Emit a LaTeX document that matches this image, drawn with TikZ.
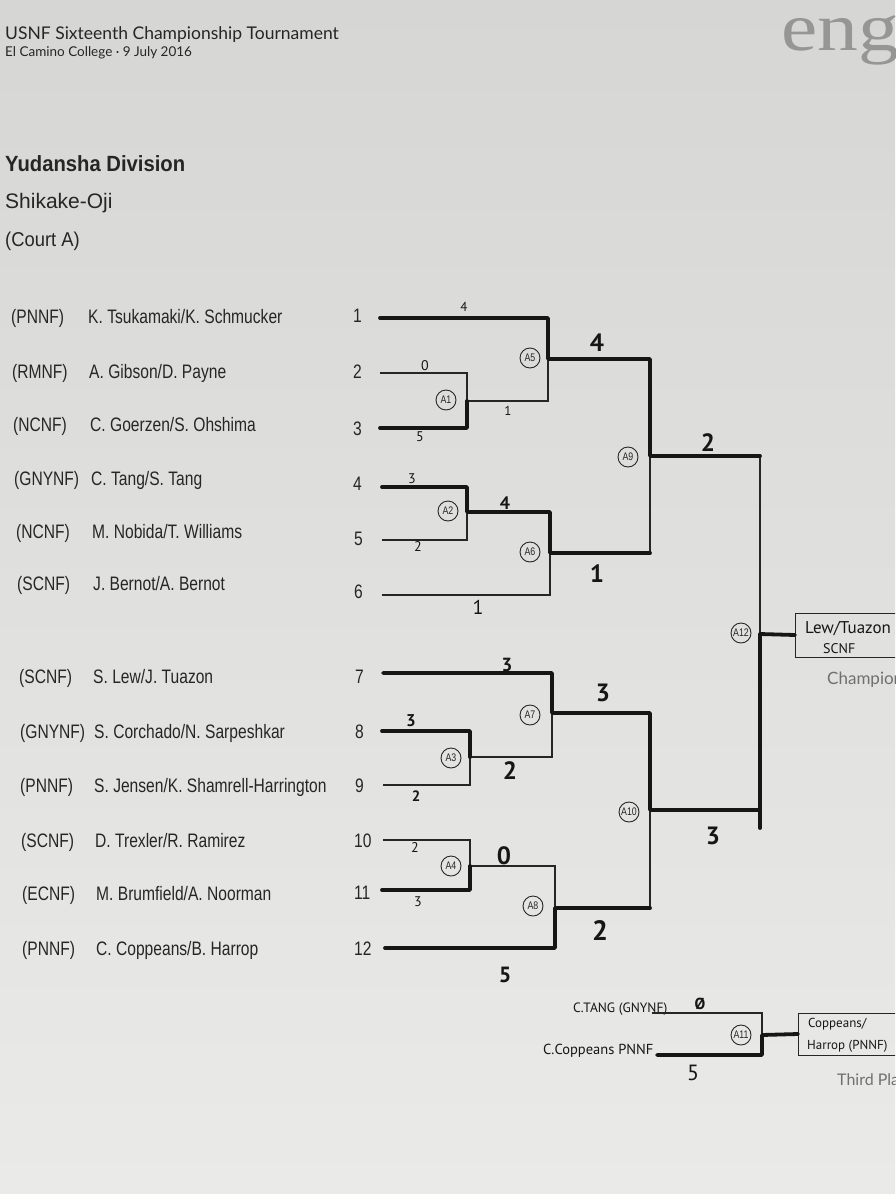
\documentclass[tikz,border=0pt]{standalone}
\usepackage{fontspec}
\setmainfont{Liberation Sans}
\newfontfamily\gillfont{Lato}
\newfontfamily\condfont[FakeStretch=0.8]{Liberation Sans}
\newfontfamily\headfont[FakeStretch=0.92]{Liberation Sans}
\newfontfamily\handfont{PT Sans}
\newfontfamily\markfont[FakeStretch=1.2]{Liberation Serif}
\usepackage{tikz}
\usetikzlibrary{positioning}
\definecolor{PaperTop}{RGB}{214,214,212}
\definecolor{PaperBot}{RGB}{234,234,232}
\definecolor{Ink}{RGB}{38,38,38}
\definecolor{Pen}{RGB}{22,22,22}
\definecolor{PrintGray}{RGB}{112,112,112}
\definecolor{Faint}{RGB}{150,150,150}

\begin{document}
\begin{tikzpicture}[
  x=1pt, y=-1pt,
  label text/.style={anchor=base west, inner sep=0pt, text=Ink},
  team/.style={label text, font=\condfont\fontsize{19.5}{20}\selectfont},
  bline/.style={draw=Ink, line width=1.1pt},
  winline/.style={draw=Pen, line width=3.8pt, line join=round, line cap=round},
  mcirc/.style={circle, draw=Ink, line width=0.9pt, minimum size=20pt,
                inner sep=0pt, text=Ink, font=\condfont\fontsize{11}{11}\selectfont},
  score/.style={inner sep=0pt, text=Pen, font=\handfont\fontsize{14}{14}\selectfont},
  bigscore/.style={inner sep=0pt, text=Pen, font=\handfont\bfseries\fontsize{25}{25}\selectfont},
  resbox/.style={rectangle, draw=Ink, line width=1pt, minimum width=112pt,
                 minimum height=44pt, anchor=west},
  hand/.style={anchor=base west, inner sep=0pt, text=Pen, font=\handfont\fontsize{14}{14}\selectfont},
]

\clip (0,0) rectangle (895,1194);
\shade[top color=PaperTop, bottom color=PaperBot] (0,0) rectangle (895,1194);

% header
\node[label text, font=\gillfont\fontsize{17.5}{18}\selectfont] (title) at (5,39) {USNF Sixteenth Championship Tournament};
\node[label text, font=\gillfont\fontsize{13.5}{14}\selectfont] (venue) at (5,56) {El Camino College · 9 July 2016};
\node[label text, text=Faint, font=\markfont\fontsize{68}{68}\selectfont] (mark) at (781,50) {eng};
\node[label text, font=\headfont\bfseries\fontsize{22}{22}\selectfont] (division) at (5,171) {Yudansha Division};
\node[label text, font=\fontsize{21}{21}\selectfont] (event) at (5,208) {Shikake-Oji};
\node[label text, font=\headfont\fontsize{20}{20}\selectfont] (court) at (5,246) {(Court A)};

% entries, top half
\node[team] (f1) at (11,323) {(PNNF)};
\node[team] (n1) at (88,323) {K. Tsukamaki/K. Schmucker};
\node[team] (d1) at (353,322) {1};
\node[team] (f2) at (12,378) {(RMNF)};
\node[team] (n2) at (89,378) {A. Gibson/D. Payne};
\node[team] (d2) at (353,378) {2};
\node[team] (f3) at (13,431) {(NCNF)};
\node[team] (n3) at (90,431) {C. Goerzen/S. Ohshima};
\node[team] (d3) at (353,435) {3};
\node[team] (f4) at (14,485) {(GNYNF)};
\node[team] (n4) at (91,485) {C. Tang/S. Tang};
\node[team] (d4) at (353,490) {4};
\node[team] (f5) at (16,538) {(NCNF)};
\node[team] (n5) at (92,538) {M. Nobida/T. Williams};
\node[team] (d5) at (354,545) {5};
\node[team] (f6) at (17,590) {(SCNF)};
\node[team] (n6) at (93,590) {J. Bernot/A. Bernot};
\node[team] (d6) at (354,598) {6};

% entries, bottom half
\node[team] (f7) at (19,683) {(SCNF)};
\node[team] (n7) at (93,683) {S. Lew/J. Tuazon};
\node[team] (d7) at (355,683) {7};
\node[team] (f8) at (20,738) {(GNYNF)};
\node[team] (n8) at (94,738) {S. Corchado/N. Sarpeshkar};
\node[team] (d8) at (355,738) {8};
\node[team] (f9) at (20,792) {(PNNF)};
\node[team] (n9) at (94,792) {S. Jensen/K. Shamrell-Harrington};
\node[team] (d9) at (355,792) {9};
\node[team] (f10) at (21,847) {(SCNF)};
\node[team] (n10) at (95,847) {D. Trexler/R. Ramirez};
\node[team] (d10) at (354,847) {10};
\node[team] (f11) at (22,900) {(ECNF)};
\node[team] (n11) at (96,900) {M. Brumfield/A. Noorman};
\node[team] (d11) at (354,899) {11};
\node[team] (f12) at (22,955) {(PNNF)};
\node[team] (n12) at (96,955) {C. Coppeans/B. Harrop};
\node[team] (d12) at (354,955) {12};

% slot starts
\coordinate (s1) at (380,318);
\coordinate (s2) at (380,373);
\coordinate (s3) at (380,428);
\coordinate (s4) at (382,487);
\coordinate (s5) at (382,540);
\coordinate (s6) at (382,595);
\coordinate (s7) at (383,673);
\coordinate (s8) at (382,731);
\coordinate (s9) at (383,785);
\coordinate (s10) at (383,840);
\coordinate (s11) at (382,890);
\coordinate (s12) at (385,948);

% match corners: top, bottom, middle
\coordinate (a1t) at (467,373);  \coordinate (a1b) at (467,428);  \coordinate (a1m) at (467,401);
\coordinate (a2t) at (467,487);  \coordinate (a2b) at (467,540);  \coordinate (a2m) at (467,512);
\coordinate (a3t) at (470,731);  \coordinate (a3b) at (470,785);  \coordinate (a3m) at (470,757);
\coordinate (a4t) at (470,840);  \coordinate (a4b) at (470,890);  \coordinate (a4m) at (470,866);
\coordinate (a5t) at (548,318);  \coordinate (a5b) at (548,401);  \coordinate (a5m) at (548,359);
\coordinate (a6t) at (550,512);  \coordinate (a6b) at (550,595);  \coordinate (a6m) at (550,553);
\coordinate (a7t) at (552,673);  \coordinate (a7b) at (552,757);  \coordinate (a7m) at (552,713);
\coordinate (a8t) at (555,866);  \coordinate (a8b) at (555,948);  \coordinate (a8m) at (555,908);
\coordinate (a9t) at (650,359);  \coordinate (a9b) at (650,553);  \coordinate (a9m) at (650,456);
\coordinate (a10t) at (650,713); \coordinate (a10b) at (650,908); \coordinate (a10m) at (650,810);
\coordinate (a12t) at (760,456); \coordinate (a12b) at (760,810); \coordinate (a12m) at (760,634);
\coordinate (a12x) at (760,828);

% result boxes
\node[resbox] (champ) at (795,635) {};
\node[hand, font=\handfont\fontsize{17}{17}\selectfont] (champname) at (805,633) {Lew/Tuazon};
\node[hand, font=\handfont\fontsize{14}{14}\selectfont] (champfed) at (823,653) {SCNF};
\node[label text, text=PrintGray, font=\gillfont\fontsize{17}{17}\selectfont] (champlbl) at (827,684) {Champion};

% printed bracket
\draw[bline] (s2) -- (a1t) -- (a1b) -- (s3);
\draw[bline] (s4) -- (a2t) -- (a2b) -- (s5);
\draw[bline] (s8) -- (a3t) -- (a3b) -- (s9);
\draw[bline] (s10) -- (a4t) -- (a4b) -- (s11);
\draw[bline] (s1) -- (a5t) -- (a5b) -- (a1m);
\draw[bline] (a2m) -- (a6t) -- (a6b) -- (s6);
\draw[bline] (s7) -- (a7t) -- (a7b) -- (a3m);
\draw[bline] (a4m) -- (a8t) -- (a8b) -- (s12);
\draw[bline] (a5m) -- (a9t) -- (a9b) -- (a6m);
\draw[bline] (a7m) -- (a10t) -- (a10b) -- (a8m);
\draw[bline] (a9m) -- (a12t) -- (a12b) -- (a10m);
\draw[bline] (a12m) -- (champ.west);

% winners marked by hand
\draw[winline] (s1) -- (a5t) -- (a5m) -- (a9t) -- (a9m) -- (a12t);
\draw[winline] (s3) -- (a1b) -- (a1m);
\draw[winline] (s4) -- (a2t) -- (a2m) -- (a6t) -- (a6m) -- (a9b);
\draw[winline] (s8) -- (a3t) -- (a3m);
\draw[winline] (s11) -- (a4b) -- (a4m);
\draw[winline] (s12) -- (a8b) -- (a8m) -- (a10b);
\draw[winline] (s7) -- (a7t) -- (a7m) -- (a10t) -- (a10m) -- (a12b) -- (a12m) -- (champ.west);
\draw[winline] (a12b) -- (a12x);

% match numbers
\node[mcirc] (c1) at (446,400) {A1};
\node[mcirc] (c2) at (448,511) {A2};
\node[mcirc] (c3) at (451,758) {A3};
\node[mcirc] (c4) at (451,866) {A4};
\node[mcirc] (c5) at (530,358) {A5};
\node[mcirc] (c6) at (530,552) {A6};
\node[mcirc] (c7) at (530,715) {A7};
\node[mcirc] (c8) at (533,906) {A8};
\node[mcirc] (c9) at (628,457) {A9};
\node[mcirc] (c10) at (629,812) {A10};
\node[mcirc] (c12) at (741,633) {A12};

% scores
\node[score, font=\handfont\fontsize{13}{13}\selectfont] (p1) at (464,307) {4};
\node[score] (p2) at (425,366) {0};
\node[score] (p3) at (420,437) {5};
\node[score, font=\handfont\fontsize{13}{13}\selectfont] (p4) at (508,411) {1};
\node[bigscore] (p5) at (597,343) {4};
\node[score] (p6) at (412,479) {3};
\node[score] (p7) at (418,547) {2};
\node[score, font=\handfont\bfseries\fontsize{18}{18}\selectfont] (p8) at (505,503) {4};
\node[score, font=\handfont\fontsize{20}{20}\selectfont] (p9) at (478,607) {1};
\node[bigscore] (p10) at (597,574) {1};
\node[bigscore] (p11) at (708,443) {2};
\node[score, font=\handfont\bfseries\fontsize{19}{19}\selectfont] (p12) at (507,665) {3};
\node[score, font=\handfont\bfseries\fontsize{17}{17}\selectfont] (p13) at (411,721) {3};
\node[score, font=\handfont\bfseries\fontsize{15}{15}\selectfont] (p14) at (416,796) {2};
\node[bigscore] (p15) at (510,771) {2};
\node[bigscore] (p16) at (603,693) {3};
\node[score] (p17) at (415,848) {2};
\node[score] (p18) at (418,902) {3};
\node[bigscore] (p19) at (504,856) {0};
\node[score, font=\handfont\bfseries\fontsize{22}{22}\selectfont] (p20) at (505,975) {5};
\node[bigscore, font=\handfont\bfseries\fontsize{28}{28}\selectfont] (p21) at (600,930) {2};
\node[bigscore] (p22) at (713,836) {3};

% third place
\node[hand, font=\handfont\fontsize{13.5}{14}\selectfont] (tp1) at (573,1012) {C.TANG (GNYNF)};
\node[hand, font=\handfont\fontsize{14.5}{15}\selectfont] (tp2) at (543,1054) {C.Coppeans PNNF};
\coordinate (l1) at (652,1013);
\coordinate (l2) at (657,1055);
\coordinate (a11t) at (762,1013); \coordinate (a11b) at (762,1055); \coordinate (a11m) at (762,1035);
\node[resbox, minimum height=42pt] (third) at (798,1034) {};
\node[hand, font=\handfont\fontsize{13}{13}\selectfont] (thirdname) at (808,1027) {Coppeans/};
\node[hand, font=\handfont\fontsize{13}{13}\selectfont] (thirdfed) at (807,1049) {Harrop (PNNF)};
\node[label text, text=PrintGray, font=\gillfont\fontsize{16}{16}\selectfont] (thirdlbl) at (837,1085) {Third Place};
\draw[bline] (l1) -- (a11t) -- (a11b) -- (l2);
\draw[bline] (a11m) -- (third.west);
\draw[winline] (l2) -- (a11b) -- (a11m) -- (third.west);
\node[mcirc] (c11) at (741,1035) {A11};
\node[score, font=\handfont\bfseries\fontsize{16}{16}\selectfont] (p23) at (700,1004) {Ø};
\node[score, font=\handfont\fontsize{22}{22}\selectfont] (p24) at (693,1073) {5};

\end{tikzpicture}
\end{document}
